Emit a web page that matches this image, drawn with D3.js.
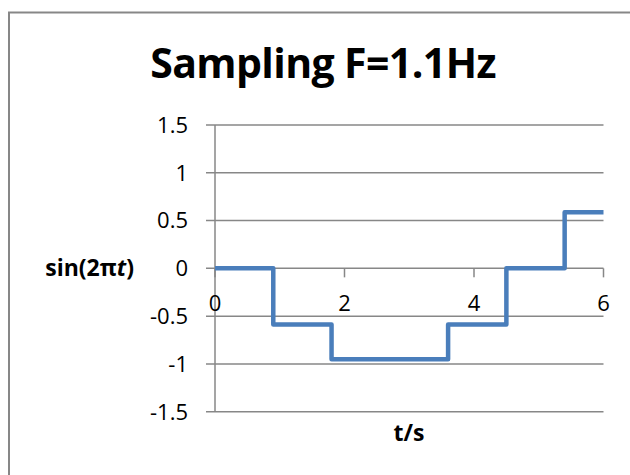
<!DOCTYPE html>
<html>
<head>
<meta charset="utf-8">
<script src="https://cdn.jsdelivr.net/npm/d3@7"></script>
<style>
  body { margin: 0; background: #fff; }
  text { font-family: "Open Sans", sans-serif; fill: #000; }
</style>
</head>
<body>
<div id="chart"></div>
<script>
// sample times (s) and held values of sin(2πt)
const times = [0, 0.9, 1.8, 2.7, 3.6, 4.5, 5.4, 6];
const values = [0, -0.588, -0.951, -0.951, -0.588, 0, 0.588, 0.588];
const xTicks = [0, 2, 4, 6];
const yTicks = [-1.5, -1, -0.5, 0, 0.5, 1, 1.5];

const width = 630;
const height = 475;
const gridColor = "#878787";

const svg = d3.select("#chart")
  .append("svg")
  .attr("width", width)
  .attr("height", height);

// chart area border
svg.append("rect")
  .attr("x", 9)
  .attr("y", 12.5)
  .attr("width", 640)
  .attr("height", 480)
  .attr("fill", "none")
  .attr("stroke", gridColor)
  .attr("stroke-width", 2);

const x = d3.scaleLinear().domain([0, 6]).range([215, 603.5]);
const y = d3.scaleLinear().domain([-1.5, 1.5]).range([411.7, 125]);

// horizontal gridlines + left ticks
svg.append("g")
  .selectAll("line")
  .data(yTicks)
  .join("line")
  .attr("x1", x(0) - 9)
  .attr("x2", x(6))
  .attr("y1", d => y(d))
  .attr("y2", d => y(d))
  .attr("stroke", gridColor)
  .attr("stroke-width", 1.5);

// y axis line
svg.append("line")
  .attr("x1", x(0)).attr("x2", x(0))
  .attr("y1", y(1.5)).attr("y2", y(-1.5))
  .attr("stroke", gridColor)
  .attr("stroke-width", 1.5);

// x axis ticks (hanging down from the zero line)
svg.append("g")
  .selectAll("line")
  .data(xTicks)
  .join("line")
  .attr("x1", d => x(d))
  .attr("x2", d => x(d))
  .attr("y1", y(0))
  .attr("y2", y(0) + 9)
  .attr("stroke", gridColor)
  .attr("stroke-width", 1.5);

// y tick labels
svg.append("g")
  .selectAll("text")
  .data(yTicks)
  .join("text")
  .attr("x", 188)
  .attr("y", d => y(d))
  .attr("dy", "0.36em")
  .attr("text-anchor", "end")
  .style("font-size", "22px")
  .text(d => String(d));

// x tick labels
svg.append("g")
  .selectAll("text")
  .data(xTicks)
  .join("text")
  .attr("x", d => x(d))
  .attr("y", 311)
  .attr("text-anchor", "middle")
  .style("font-size", "22px")
  .text(d => String(d));

// the step line
const line = d3.line()
  .x((d, i) => x(times[i]))
  .y(d => y(d))
  .curve(d3.curveStepAfter);

svg.append("path")
  .datum(values)
  .attr("d", line)
  .attr("fill", "none")
  .attr("stroke", "#4a7ebb")
  .attr("stroke-width", 4.5)
  .attr("stroke-linejoin", "round");

// title
svg.append("text")
  .attr("x", 323)
  .attr("y", 78)
  .attr("text-anchor", "middle")
  .style("font-size", "41px")
  .style("font-weight", "bold")
  .style("letter-spacing", "-0.6px")
  .text("Sampling F=1.1Hz");

// axis titles
const yTitle = svg.append("text")
  .attr("x", 134)
  .attr("y", 268)
  .attr("dy", "0.36em")
  .attr("text-anchor", "end")
  .style("font-size", "23px")
  .style("font-weight", "bold");
yTitle.append("tspan").text("sin(2π");
yTitle.append("tspan").style("font-style", "italic").text("t");
yTitle.append("tspan").text(")");

svg.append("text")
  .attr("x", 409)
  .attr("y", 441)
  .attr("text-anchor", "middle")
  .style("font-size", "23px")
  .style("font-weight", "bold")
  .text("t/s");
</script>
</body>
</html>
